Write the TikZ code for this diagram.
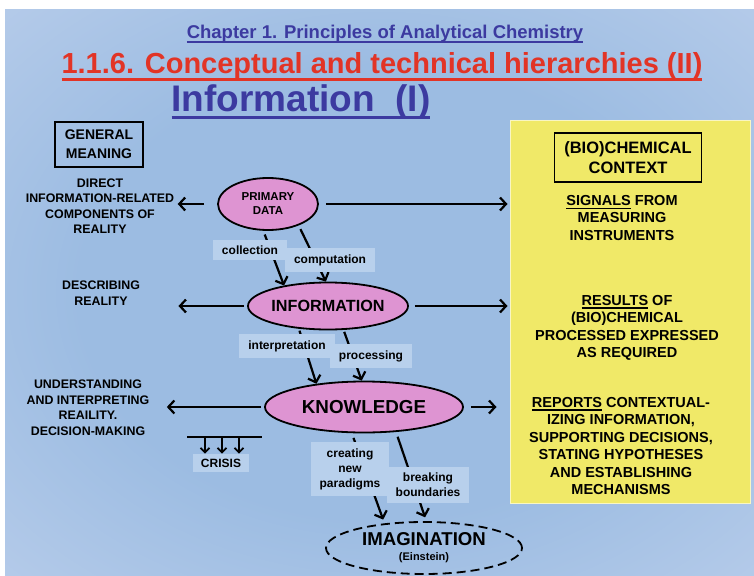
\documentclass[tikz,border=0pt]{standalone}
\usepackage{fontspec}
\setmainfont{Liberation Sans}
\usetikzlibrary{arrows.meta,shapes.geometric}

\definecolor{titleblue}{RGB}{60,58,160}
\definecolor{titlered}{RGB}{226,52,38}
\definecolor{ovalpink}{RGB}{222,148,210}
\definecolor{tagblue}{RGB}{184,208,236}
\definecolor{ctxyellow}{RGB}{240,233,104}
\definecolor{bgmid}{RGB}{156,188,226}
\definecolor{bgedge}{RGB}{196,212,238}
\definecolor{bgcorner}{RGB}{240,230,246}

\pgfdeclareradialshading{slidebg}{\pgfpoint{0bp}{0bp}}{color(0bp)=(bgmid); color(20bp)=(bgmid); color(46bp)=(bgedge); color(62bp)=(bgcorner); color(75bp)=(bgcorner)}

\newcommand{\fatuline}[2]{\leavevmode{\setbox0\hbox{#2}\rlap{\rule[\dimexpr-0.14em-#1\relax]{\wd0}{#1}}\box0}}

\begin{document}
\begin{tikzpicture}[x=1pt,y=-1pt]
  \tikzstyle{oval}=[ellipse,draw,line width=1.8pt,fill=ovalpink,inner sep=0pt,align=center]
  \tikzstyle{tag}=[fill=tagblue,inner xsep=9pt,inner ysep=6pt,align=center,font=\fontsize{12}{15}\selectfont\bfseries]
  \tikzstyle{side}=[align=center,font=\fontsize{12.4}{15.5}\selectfont\bfseries]
  \tikzstyle{ctxtext}=[align=center,font=\fontsize{14.5}{17.5}\selectfont\bfseries]
  \tikzstyle{framed}=[draw,line width=1.8pt,align=center]
  \tikzstyle{arr}=[line width=2.2pt,-{Straight Barb[length=6pt,width=13pt]}]
  \useasboundingbox (0,0) rectangle (754,575);
  \fill[white] (0,0) rectangle (754,575);
  \shade[shading=slidebg] (5,10) rectangle (754,575);

  % titles
  \node[text=titleblue,font=\fontsize{18.5}{20}\selectfont\bfseries] (chap) at (385,34) {\fatuline{2pt}{Chapter 1. Principles of Analytical Chemistry}};
  \node[text=titlered,font=\fontsize{29}{32}\selectfont\bfseries] (sect) at (382,67) {\fatuline{3pt}{1.1.6. Conceptual and technical hierarchies (II)}};
  \node[text=titleblue,font=\fontsize{37}{40}\selectfont\bfseries] (info title) at (301,102) {\fatuline{3pt}{Information~~(I)}};

  % yellow context panel
  \node[fill=ctxyellow,draw=ctxyellow!40!white,line width=1pt,minimum width=240,minimum height=383] (ctx) at (630,311.5) {};
  \node[framed,minimum width=147,minimum height=49,font=\fontsize{16.5}{20}\selectfont\bfseries] (bioctx) at (628,157.5) {(BIO)CHEMICAL\\CONTEXT};
  \node[ctxtext] (signals) at (622,218) {\fatuline{1.5pt}{SIGNALS} FROM\\MEASURING\\INSTRUMENTS};
  \node[ctxtext] (results) at (627,328) {\fatuline{1.5pt}{RESULTS} OF\\(BIO)CHEMICAL\\PROCESSED EXPRESSED\\AS REQUIRED};
  \node[ctxtext] (reports) at (621,446) {\fatuline{1.5pt}{REPORTS} CONTEXTUAL-\\IZING INFORMATION,\\SUPPORTING DECISIONS,\\STATING HYPOTHESES\\AND ESTABLISHING\\MECHANISMS};

  % general meaning column
  \node[framed,minimum width=88,minimum height=45,font=\fontsize{14}{19}\selectfont\bfseries] (meaning) at (99,144.5) {GENERAL\\MEANING};
  \node[side] (direct) at (100,206) {DIRECT\\INFORMATION-RELATED\\COMPONENTS OF\\REALITY};
  \node[side] (describe) at (101,293) {DESCRIBING\\REALITY};
  \node[side] (understand) at (88,407.5) {UNDERSTANDING\\AND INTERPRETING\\REAILITY.\\DECISION-MAKING};

  % hierarchy
  \node[oval,minimum width=100,minimum height=52,font=\fontsize{11.5}{14}\selectfont\bfseries] (data) at (268,204) {PRIMARY\\DATA};
  \node[oval,minimum width=160,minimum height=47,font=\fontsize{16.2}{18}\selectfont\bfseries] (information) at (328,306) {INFORMATION};
  \node[oval,minimum width=198,minimum height=51,font=\fontsize{18.8}{20}\selectfont\bfseries] (knowledge) at (364,407) {KNOWLEDGE};
  \node[ellipse,draw,dash pattern=on 9pt off 5pt,line width=1.8pt,inner sep=0pt,minimum width=196,minimum height=52,align=center] (imagination) at (424,548)
    {\fontsize{18.6}{19}\selectfont\bfseries IMAGINATION\\[3pt]\fontsize{11}{12}\selectfont\bfseries (Einstein)};

  \draw[arr,shorten <=4pt] (data.-100) -- (information.155);
  \draw[arr,shorten <=4pt] (data.-35) -- (information.95);
  \draw[arr,shorten <=2pt] (information.-142) -- (knowledge.154);
  \draw[arr,shorten <=2pt] (information.-57) -- (knowledge.95);
  \draw[arr,shorten <=5pt,shorten >=4pt] (knowledge.-115) -- (imagination.148);
  \draw[arr,shorten <=5pt,shorten >=4pt] (knowledge.-38) -- (imagination.85);

  \draw[arr,shorten <=13pt] (data.west) -- (data.west -| direct.east);
  \draw[arr,shorten <=3pt,shorten >=35pt] (information.west) -- (information.west -| describe.east);
  \draw[arr,shorten <=3pt,shorten >=14pt] (knowledge.west) -- (knowledge.west -| understand.east);
  \draw[arr,shorten <=7pt,shorten >=2pt] (data.east) -- (data.east -| ctx.west);
  \draw[arr,shorten <=6pt,shorten >=2pt] (information.east) -- (information.east -| ctx.west);
  \draw[arr,shorten <=7pt,shorten >=13pt] (knowledge.east) -- (knowledge.east -| ctx.west);

  % labels over the arrows
  \node[tag] (collection) at (250,250) {collection};
  \node[tag] (computation) at (330,260) {computation};
  \node[tag] (interpretation) at (287,346) {interpretation};
  \node[tag] (processing) at (371,356) {processing};
  \node[tag] (paradigms) at (350,469) {creating\\new\\paradigms};
  \node[tag] (boundaries) at (428,485) {breaking\\boundaries};

  % crisis
  \node[tag,inner xsep=8pt,inner ysep=5pt] (crisis) at (221,463) {CRISIS};
  \coordinate (bar) at (222,437);
  \draw[line width=2pt] ([xshift=-35pt]bar) -- ([xshift=40pt]bar);
  \foreach \dx in {-17,0,17}
    \draw[line width=1.8pt,-{Straight Barb[length=4.5pt,width=9pt]}] ([xshift=\dx pt]bar) -- ([xshift=\dx pt]bar |- crisis.north);
\end{tikzpicture}
\end{document}
